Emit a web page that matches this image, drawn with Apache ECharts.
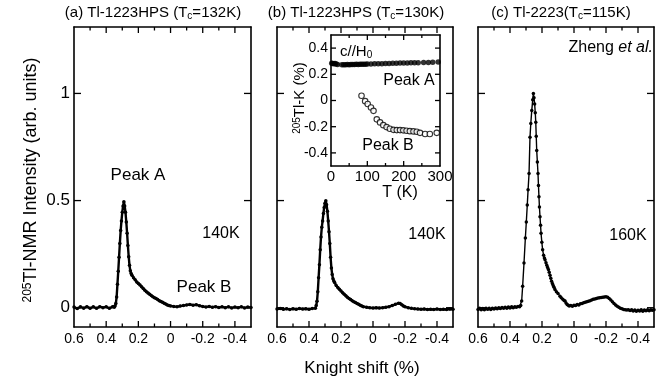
<!DOCTYPE html>
<html>
<head>
<meta charset="utf-8">
<script src="https://cdn.jsdelivr.net/npm/echarts@6/dist/echarts.min.js"></script>
<style>html,body{margin:0;padding:0;background:#fff}#c{width:670px;height:388px}</style>
</head>
<body>
<div id="c"></div>
<script>
// ---- Data ----
const aShift = [0.60,0.58,0.56,0.54,0.52,0.50,0.48,0.46,0.44,0.42,0.40,0.38,0.36,0.35,0.345,0.34,0.335,0.33,0.325,0.32,0.315,0.31,0.305,0.30,0.295,0.29,0.285,0.28,0.275,0.27,0.265,0.26,0.255,0.25,0.245,0.24,0.23,0.22,0.21,0.20,0.19,0.18,0.17,0.16,0.15,0.14,0.13,0.12,0.11,0.10,0.09,0.08,0.07,0.06,0.05,0.04,0.03,0.02,0.01,0.00,-0.02,-0.04,-0.06,-0.08,-0.10,-0.12,-0.14,-0.16,-0.18,-0.20,-0.22,-0.24,-0.26,-0.28,-0.30,-0.32,-0.34,-0.36,-0.38,-0.40,-0.42,-0.44,-0.46,-0.48,-0.50];
const aInt = [0.003,-0.004,0.004,-0.002,0.005,-0.003,0.004,-0.003,0.005,0.000,0.004,-0.003,0.005,0.002,0.008,0.02,0.05,0.11,0.17,0.235,0.30,0.36,0.405,0.445,0.475,0.495,0.475,0.445,0.40,0.348,0.29,0.238,0.198,0.172,0.16,0.152,0.14,0.13,0.12,0.113,0.106,0.098,0.09,0.082,0.075,0.069,0.063,0.057,0.051,0.047,0.043,0.038,0.033,0.029,0.025,0.021,0.017,0.013,0.01,0.008,0.006,0.004,0.008,0.01,0.013,0.015,0.012,0.014,0.009,0.006,0.003,0.006,0.002,0.005,0.001,0.004,0.0,0.004,-0.001,0.003,0.0,0.004,-0.001,0.003,0.001];

const bShift = [0.60,0.58,0.56,0.54,0.52,0.50,0.48,0.46,0.44,0.42,0.40,0.38,0.36,0.355,0.35,0.345,0.34,0.335,0.33,0.325,0.32,0.315,0.31,0.305,0.30,0.295,0.29,0.285,0.28,0.275,0.27,0.265,0.26,0.255,0.25,0.245,0.24,0.23,0.22,0.21,0.20,0.19,0.18,0.17,0.16,0.15,0.14,0.13,0.12,0.11,0.10,0.09,0.08,0.07,0.06,0.04,0.02,0.00,-0.02,-0.04,-0.06,-0.08,-0.10,-0.12,-0.14,-0.16,-0.17,-0.18,-0.19,-0.20,-0.22,-0.24,-0.26,-0.28,-0.30,-0.32,-0.34,-0.36,-0.38,-0.40,-0.42,-0.44,-0.46,-0.48,-0.50];
const bInt = [-0.006,-0.004,-0.007,-0.005,-0.008,-0.005,-0.007,-0.004,-0.006,-0.005,-0.007,-0.004,-0.002,0.01,0.03,0.075,0.14,0.2,0.27,0.33,0.375,0.405,0.44,0.468,0.488,0.499,0.48,0.45,0.405,0.355,0.3,0.235,0.185,0.155,0.135,0.125,0.118,0.104,0.094,0.086,0.078,0.07,0.063,0.056,0.049,0.043,0.038,0.033,0.028,0.024,0.02,0.016,0.012,0.008,0.005,0.002,0.0,-0.001,0.0,-0.001,0.0,0.002,0.005,0.01,0.016,0.021,0.02,0.014,0.008,0.004,0.0,-0.003,-0.005,-0.006,-0.007,-0.006,-0.008,-0.007,-0.008,-0.006,-0.008,-0.007,-0.008,-0.006,-0.007];

const cShift = [0.60,0.59,0.58,0.57,0.56,0.55,0.54,0.53,0.52,0.51,0.50,0.49,0.48,0.47,0.46,0.45,0.44,0.43,0.42,0.41,0.40,0.39,0.38,0.37,0.36,0.35,0.34,0.333,0.327,0.321,0.3125,0.304,0.298,0.292,0.287,0.281,0.275,0.27,0.264,0.258,0.254,0.25,0.246,0.242,0.239,0.236,0.233,0.229,0.225,0.222,0.219,0.216,0.2125,0.209,0.206,0.201,0.196,0.19,0.185,0.181,0.175,0.17,0.165,0.16,0.155,0.15,0.145,0.14,0.135,0.13,0.125,0.119,0.11,0.10,0.0875,0.08,0.07,0.062,0.056,0.05,0.043,0.036,0.03,0.02,0.01,0.0,-0.01,-0.02,-0.03,-0.04,-0.05,-0.06,-0.07,-0.08,-0.09,-0.10,-0.11,-0.12,-0.13,-0.14,-0.15,-0.16,-0.17,-0.18,-0.19,-0.20,-0.21,-0.22,-0.23,-0.24,-0.25,-0.26,-0.27,-0.28,-0.29,-0.30,-0.31,-0.32,-0.33,-0.34,-0.35,-0.36,-0.37,-0.38,-0.39,-0.40,-0.41,-0.42,-0.43,-0.44,-0.45,-0.46,-0.47,-0.48,-0.49,-0.50];
const cInt = [-0.008,-0.003,-0.01,-0.004,-0.009,-0.002,-0.007,-0.003,-0.008,-0.002,-0.006,-0.001,-0.005,0.0,-0.004,0.001,-0.003,0.002,-0.002,0.003,-0.001,0.004,0.0,0.005,0.002,0.006,0.004,0.01,0.031,0.1,0.209,0.325,0.40,0.479,0.55,0.626,0.796,0.86,0.92,0.97,1.0,0.98,0.951,0.91,0.866,0.80,0.734,0.68,0.626,0.57,0.518,0.47,0.425,0.385,0.348,0.305,0.27,0.245,0.232,0.224,0.21,0.198,0.188,0.178,0.165,0.152,0.138,0.124,0.113,0.104,0.095,0.085,0.075,0.066,0.054,0.047,0.04,0.034,0.031,0.022,0.015,0.011,0.008,0.01,0.007,0.012,0.01,0.015,0.013,0.018,0.02,0.023,0.025,0.028,0.03,0.033,0.036,0.039,0.041,0.043,0.045,0.046,0.048,0.049,0.05,0.051,0.049,0.043,0.036,0.028,0.02,0.013,0.007,0.002,-0.002,-0.005,-0.008,-0.01,-0.011,-0.009,-0.013,-0.01,-0.015,-0.011,-0.016,-0.012,-0.015,-0.01,-0.016,-0.011,-0.014,-0.009,-0.014,-0.01,-0.012,-0.009];

// inset: 205Tl Knight shift vs T
const peakAT = [2,5,8,11,14,18,30,35,40,45,50,55,60,65,70,75,80,85,90,95,100,110,120,130,140,150,160,170,180,190,200,210,220,230,240,255,268,280,295];
const peakAK = [0.285,0.283,0.28,0.282,0.278,0.275,0.272,0.273,0.272,0.274,0.273,0.274,0.275,0.274,0.276,0.275,0.276,0.277,0.276,0.277,0.278,0.279,0.28,0.28,0.281,0.282,0.283,0.284,0.285,0.286,0.287,0.287,0.288,0.288,0.289,0.29,0.291,0.292,0.293];
const peakBT = [84,94,101,110,117,126,135,144,153,162,172,181,190,199,208,217,227,236,245,259,272,291];
const peakBK = [0.036,-0.005,-0.027,-0.053,-0.079,-0.144,-0.167,-0.188,-0.203,-0.216,-0.224,-0.226,-0.226,-0.228,-0.231,-0.234,-0.236,-0.239,-0.247,-0.256,-0.256,-0.247];

const xMajorTicks = [0.4,0.2,0,-0.2,-0.4];
const xMinorTicks = [0.5,0.3,0.1,-0.1,-0.3];
const xLabelValues = [0.6,0.4,0.2,0,-0.2,-0.4];
const yTicks = [0, 0.5, 1];
const insetXMajor = [100, 200];
const insetXMinor = [50, 150, 250];
const insetYTicks = [-0.4,-0.2,0,0.2,0.4];

// ---- Chart ----
const FONT = 'Liberation Sans, Arial, Helvetica, sans-serif';
const chart = echarts.init(document.getElementById('c'), null, {renderer: 'canvas'});
const pair = (xs, ys) => xs.map((x, i) => [x, ys[i]]);

const line = () => ({show: true, onZero: false, lineStyle: {color: '#000', width: 1.6}});
const noTick = () => ({show: false});

const panelRects = [
  {left: 74, top: 27, width: 177, height: 300},
  {left: 277, top: 27, width: 176, height: 300},
  {left: 478, top: 27, width: 176, height: 300}
];
const insetRect = {left: 331, top: 35, width: 109, height: 131};
const grids = panelRects.concat([insetRect]).map(g => Object.assign({show: false, containLabel: false}, g));

const X_MIN = -0.5, X_MAX = 0.6, Y_MIN = -0.09, Y_MAX = 1.31;
const IX_MIN = 0, IX_MAX = 300, IY_MIN = -0.5, IY_MAX = 0.5;
const xAxes = [];
const yAxes = [];
const xRange = {type: 'value', min: X_MIN, max: X_MAX, inverse: true, splitLine: {show: false}};
const yRange = {type: 'value', min: Y_MIN, max: Y_MAX, splitLine: {show: false}};
for (let i = 0; i < 3; i++) {
  xAxes.push(Object.assign({gridIndex: i, position: 'bottom', axisLine: line(), axisTick: noTick(),
    axisLabel: {show: true, customValues: xLabelValues, formatter: v => String(v), color: '#000', fontSize: 14, fontFamily: FONT, margin: 5}}, xRange));
  xAxes.push(Object.assign({gridIndex: i, position: 'top', axisLine: line(), axisTick: noTick(),
    axisLabel: {show: false}}, xRange));
  yAxes.push(Object.assign({gridIndex: i, position: 'left', axisLine: line(), axisTick: noTick(),
    axisLabel: {show: i === 0, customValues: yTicks, formatter: v => String(v), color: '#000', fontSize: 17, fontFamily: FONT, margin: 4}}, yRange));
  yAxes.push(Object.assign({gridIndex: i, position: 'right', axisLine: line(), axisTick: noTick(),
    axisLabel: {show: false}}, yRange));
}
xAxes.push({gridIndex: 3, type: 'value', min: IX_MIN, max: IX_MAX, interval: 100, position: 'bottom',
  axisLine: line(), splitLine: {show: false}, axisTick: noTick(),
  axisLabel: {color: '#000', fontSize: 15, fontFamily: FONT, margin: 3}});
xAxes.push({gridIndex: 3, type: 'value', min: IX_MIN, max: IX_MAX, interval: 100, position: 'top',
  axisLine: line(), splitLine: {show: false}, axisTick: noTick(), axisLabel: {show: false}});
yAxes.push({gridIndex: 3, type: 'value', min: IY_MIN, max: IY_MAX, position: 'left',
  axisLine: line(), splitLine: {show: false}, axisTick: noTick(),
  axisLabel: {customValues: insetYTicks, formatter: v => String(v), color: '#000', fontSize: 14, fontFamily: FONT, margin: 3}});
yAxes.push({gridIndex: 3, type: 'value', min: IY_MIN, max: IY_MAX, position: 'right',
  axisLine: line(), splitLine: {show: false}, axisTick: noTick(), axisLabel: {show: false}});

const spec = (i, data, sym, lw) => ({
  type: 'line', xAxisIndex: 2 * i, yAxisIndex: 2 * i, data: data,
  symbol: 'circle', symbolSize: sym, showSymbol: true, showAllSymbol: true,
  lineStyle: {color: '#000', width: lw}, itemStyle: {color: '#000'}, animation: false, silent: true
});

const series = [
  spec(0, pair(aShift, aInt), 3.5, 2.4),
  spec(1, pair(bShift, bInt), 3.5, 2.4),
  spec(2, pair(cShift, cInt), 3.5, 1.4),
  {type: 'scatter', xAxisIndex: 6, yAxisIndex: 6, data: pair(peakAT, peakAK), symbol: 'circle', symbolSize: 5.5,
   itemStyle: {color: '#000'}, animation: false, silent: true},
  {type: 'scatter', xAxisIndex: 6, yAxisIndex: 6, data: pair(peakBT, peakBK), symbol: 'circle', symbolSize: 5.5,
   itemStyle: {color: '#fff', borderColor: '#000', borderWidth: 1.1}, animation: false, silent: true}
];

// Inward tick marks as small rectangles placed at axis values through the axes' scales
function tickItems(xs, ys, w, h, ox, oy) {
  const out = [];
  xs.forEach(x => ys.forEach(y => out.push({value: [x, y], symbolSize: [w, h], symbolOffset: [ox, oy]})));
  return out;
}
function tickSeries(xIdx, yIdx, items) {
  return {type: 'scatter', xAxisIndex: xIdx, yAxisIndex: yIdx, data: items, symbol: 'rect',
    itemStyle: {color: '#000', opacity: 1}, clip: false, silent: true, animation: false, z: 5};
}
for (let i = 0; i < 3; i++) {
  const items = []
    .concat(tickItems(xMajorTicks, [Y_MIN], 1.3, 6, 0, -3))
    .concat(tickItems(xMajorTicks, [Y_MAX], 1.3, 6, 0, 3))
    .concat(tickItems(xMinorTicks, [Y_MIN], 1.3, 3.5, 0, -1.75))
    .concat(tickItems(xMinorTicks, [Y_MAX], 1.3, 3.5, 0, 1.75))
    .concat(tickItems([X_MAX], yTicks, 7, 1.3, 3.5, 0))
    .concat(tickItems([X_MIN], yTicks, 7, 1.3, -3.5, 0));
  series.push(tickSeries(2 * i, 2 * i, items));
}
series.push(tickSeries(6, 6, []
  .concat(tickItems(insetXMajor, [IY_MIN], 1.3, 5, 0, -2.5))
  .concat(tickItems(insetXMajor, [IY_MAX], 1.3, 5, 0, 2.5))
  .concat(tickItems(insetXMinor, [IY_MIN], 1.3, 3, 0, -1.5))
  .concat(tickItems(insetXMinor, [IY_MAX], 1.3, 3, 0, 1.5))
  .concat(tickItems([IX_MIN], insetYTicks, 5, 1.3, 2.5, 0))
  .concat(tickItems([IX_MAX], insetYTicks, 5, 1.3, -2.5, 0))));

const T = (text, x, y, size, extra) => Object.assign({type: 'text', x: x, y: y, silent: true,
  style: Object.assign({text: text, fill: '#000', font: size + 'px ' + FONT, align: 'center', verticalAlign: 'middle'}, (extra && extra.style) || {})},
  extra ? {rotation: extra.rotation || 0} : {});

const subRich = (fs) => ({sub: {fontSize: fs, fontFamily: FONT, fill: '#000', verticalAlign: 'bottom', padding: [6, 0, 0, 0]},
  sup: {fontSize: fs, fontFamily: FONT, fill: '#000', verticalAlign: 'top', padding: [0, 0, 6, 0]},
  it: {fontStyle: 'italic', fontFamily: FONT, fill: '#000'}});

const graphics = [
  T('(a) Tl-1223HPS (T{sub|c}=132K)', 153, 13, 15, {style: {rich: subRich(10)}}),
  T('(b) Tl-1223HPS (T{sub|c}=130K)', 356, 13, 15, {style: {rich: subRich(10)}}),
  T('(c) Tl-2223(T{sub|c}=115K)', 561, 13, 15, {style: {rich: subRich(10)}}),
  T('{sup|205}Tl-NMR Intensity (arb. units)', 31, 180, 18, {rotation: Math.PI / 2, style: {rich: subRich(12)}}),
  T('Knight shift (%)', 362, 368, 17),
  T('Peak A', 138, 175, 17),
  T('140K', 221, 234, 16),
  T('Peak B', 204, 287, 17),
  T('140K', 427, 235, 16),
  T('Zheng {it|et al.}', 653, 48, 16, {style: {align: 'right', rich: {it: {fontStyle: 'italic', fontSize: 16, fontFamily: FONT, fill: '#000'}}}}),
  T('160K', 628, 236, 16),
  T('c//H{sub|0}', 340, 52, 15, {style: {align: 'left', rich: subRich(10)}}),
  T('Peak A', 409, 81, 16),
  T('Peak B', 388, 146, 16),
  T('{sup|205}Tl-K (%)', 300, 98, 15, {rotation: Math.PI / 2, style: {rich: subRich(10)}}),
  T('T (K)', 400, 193, 16)
];

chart.setOption({
  animation: false,
  backgroundColor: '#fff',
  grid: grids,
  xAxis: xAxes,
  yAxis: yAxes,
  series: series,
  graphic: graphics
});
</script>
</body>
</html>
